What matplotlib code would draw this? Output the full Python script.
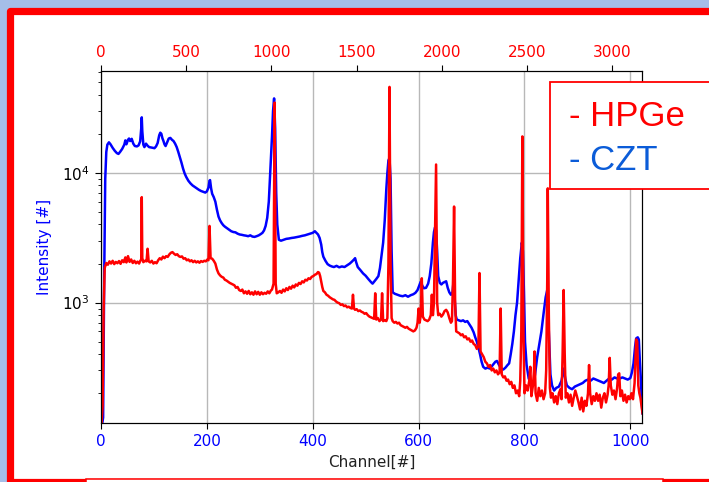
import matplotlib.pyplot as plt
from matplotlib.patches import Rectangle

# HPGe spectrum (channel, counts)
hpge_ch = [0, 3, 5, 7, 10, 13, 16, 19, 22, 25, 28, 31, 34, 37, 40, 43, 46, 48, 51, 54,
           57, 60, 63, 66, 69, 72, 74, 76, 77, 78, 80, 83, 86, 88, 90, 93, 96, 99, 102, 105,
           108, 111, 114, 117, 120, 123, 126, 129, 132, 135, 138, 141, 144, 147, 150, 153, 156, 159, 162, 165,
           168, 171, 174, 177, 180, 183, 186, 189, 192, 195, 198, 201, 203, 205, 207, 210, 213, 216, 219, 222,
           225, 228, 231, 234, 237, 240, 243, 246, 249, 252, 255, 258, 261, 264, 267, 270, 273, 276, 279, 282,
           285, 288, 291, 294, 297, 300, 303, 306, 309, 312, 315, 318, 321, 323, 326, 328, 330, 332, 335, 338,
           341, 344, 347, 350, 353, 356, 359, 362, 365, 368, 371, 374, 377, 380, 383, 386, 389, 392, 395, 398,
           401, 404, 407, 410, 412, 414, 416, 418, 420, 423, 426, 429, 432, 435, 438, 441, 444, 447, 450, 453,
           456, 459, 462, 465, 468, 471, 474, 476, 478, 480, 483, 486, 489, 492, 495, 498, 501, 504, 507, 510,
           513, 516, 518, 520, 523, 526, 529, 531, 533, 536, 539, 541, 543, 545, 547, 549, 551, 554, 557, 560,
           563, 566, 569, 572, 575, 578, 581, 584, 587, 590, 593, 596, 598, 600, 602, 604, 606, 608, 611, 614,
           617, 620, 623, 625, 627, 629, 631, 633, 635, 637, 640, 643, 646, 649, 652, 655, 658, 661, 663, 665,
           667, 669, 671, 674, 677, 680, 683, 686, 689, 692, 695, 698, 701, 704, 707, 710, 713, 715, 717, 720,
           723, 726, 729, 732, 735, 738, 741, 744, 747, 750, 753, 755, 757, 760, 763, 766, 769, 772, 775, 778,
           781, 784, 787, 790, 792, 794, 796, 798, 800, 803, 806, 809, 811, 813, 816, 818, 819, 821, 824, 827,
           830, 833, 836, 839, 841, 843, 844, 846, 848, 850, 853, 856, 859, 862, 865, 868, 870, 872, 874, 876,
           878, 881, 884, 887, 890, 893, 896, 899, 902, 905, 908, 911, 914, 917, 920, 922, 924, 927, 930, 933,
           936, 939, 942, 945, 948, 951, 954, 957, 959, 961, 963, 966, 969, 972, 975, 977, 979, 981, 984, 987,
           990, 993, 996, 999, 1002, 1005, 1008, 1011, 1013, 1015, 1017, 1019, 1021, 1023]
hpge_counts = [100, 160, 900, 1850, 2020, 1960, 2080, 2000, 2100, 1980, 2060, 2010, 2090, 1990, 2120, 2050, 2230, 2040, 2280, 2060,
               2150, 2020, 2100, 2010, 2070, 2000, 2090, 2150, 6500, 2200, 2050, 2100, 2080, 2600, 2080, 2040, 2100, 2000, 2050, 2010,
               2120, 2200, 2150, 2260, 2200, 2280, 2250, 2350, 2420, 2450, 2380, 2330, 2360, 2280, 2250, 2270, 2180, 2200, 2120, 2150,
               2080, 2120, 2050, 2100, 2040, 2080, 2030, 2090, 2060, 2100, 2080, 2150, 2120, 3900, 2200, 2180, 2100, 2000, 1800, 1680,
               1620, 1580, 1560, 1500, 1480, 1450, 1420, 1400, 1380, 1360, 1300, 1320, 1250, 1230, 1260, 1180, 1220, 1170, 1230, 1160,
               1200, 1150, 1220, 1160, 1210, 1150, 1200, 1160, 1190, 1170, 1220, 1180, 1240, 1260, 1400, 34800, 1400, 1180, 1200, 1230,
               1190, 1260, 1220, 1290, 1250, 1320, 1280, 1350, 1310, 1380, 1350, 1420, 1390, 1460, 1430, 1500, 1480, 1540, 1520, 1580,
               1600, 1640, 1660, 1720, 1700, 1600, 1450, 1320, 1230, 1200, 1150, 1130, 1100, 1080, 1060, 1050, 1020, 1000, 990, 960,
               970, 940, 950, 920, 930, 910, 900, 1150, 900, 880, 890, 860, 870, 850, 840, 820, 830, 800, 780, 770,
               760, 750, 1180, 740, 760, 720, 740, 1180, 720, 730, 720, 760, 2000, 46000, 2000, 760, 720, 700, 710, 690,
               700, 670, 660, 650, 640, 650, 630, 620, 610, 600, 610, 640, 700, 900, 700, 800, 1540, 780, 740, 730,
               720, 740, 800, 1150, 800, 1000, 3500, 11600, 1000, 800, 820, 780, 810, 860, 880, 840, 760, 700, 720, 1500,
               5500, 1000, 600, 590, 580, 560, 570, 540, 550, 520, 530, 500, 510, 480, 470, 440, 460, 1690, 420, 400,
               380, 350, 340, 320, 330, 300, 310, 290, 300, 280, 290, 900, 280, 265, 270, 250, 255, 235, 245, 220,
               230, 200, 210, 190, 250, 600, 19100, 600, 200, 230, 210, 250, 320, 190, 230, 300, 420, 200, 175, 220,
               190, 210, 180, 200, 300, 1500, 7600, 800, 220, 185, 200, 170, 190, 165, 200, 215, 180, 400, 1250, 400,
               185, 200, 170, 195, 160, 185, 210, 190, 170, 150, 185, 145, 175, 160, 200, 330, 200, 165, 190, 175,
               200, 175, 195, 155, 185, 200, 170, 195, 230, 375, 230, 195, 210, 180, 220, 280, 285, 190, 210, 175,
               195, 170, 190, 180, 200, 180, 240, 520, 500, 230, 200, 185, 160, 140]

# CZT spectrum (channel, counts)
czt_ch = [0, 4, 6, 8, 10, 12, 15, 18, 22, 26, 30, 33, 36, 40, 44, 46, 48, 51, 53, 55,
          58, 61, 64, 68, 71, 74, 76, 77, 78, 80, 82, 85, 88, 91, 95, 98, 101, 104, 107, 110,
          112, 114, 116, 118, 120, 122, 125, 128, 131, 134, 137, 140, 143, 146, 149, 152, 155, 158, 161, 165,
          169, 173, 177, 181, 185, 189, 193, 197, 200, 203, 205, 206, 208, 210, 213, 216, 219, 222, 225, 228,
          231, 234, 238, 242, 246, 250, 254, 258, 262, 266, 270, 274, 278, 282, 286, 290, 294, 298, 302, 305,
          308, 311, 314, 317, 320, 323, 325, 327, 329, 331, 333, 336, 340, 345, 350, 355, 360, 365, 370, 375,
          380, 385, 390, 395, 400, 404, 407, 410, 413, 416, 418, 420, 424, 428, 432, 436, 440, 445, 450, 455,
          460, 465, 470, 474, 478, 480, 482, 485, 490, 495, 500, 505, 510, 513, 516, 520, 524, 527, 530, 533,
          536, 539, 541, 543, 545, 547, 549, 551, 555, 560, 565, 570, 575, 580, 585, 590, 594, 598, 601, 604,
          607, 610, 614, 618, 621, 624, 627, 629, 631, 633, 635, 637, 640, 643, 646, 649, 652, 655, 658, 661,
          664, 666, 668, 670, 672, 676, 680, 684, 688, 692, 696, 700, 704, 707, 710, 713, 716, 719, 722, 726,
          730, 735, 740, 745, 748, 752, 756, 760, 764, 768, 771, 774, 777, 780, 783, 786, 789, 792, 795, 797,
          799, 801, 804, 808, 812, 817, 820, 824, 828, 832, 836, 840, 843, 846, 849, 852, 856, 860, 865, 870,
          874, 877, 880, 885, 890, 895, 900, 905, 910, 915, 920, 925, 930, 935, 940, 945, 950, 955, 960, 965,
          970, 975, 980, 985, 990, 995, 1000, 1003, 1006, 1009, 1011, 1014, 1016, 1018, 1020, 1022, 1023]
czt_counts = [100, 130, 1500, 9000, 14500, 16500, 17200, 16600, 15600, 14800, 14200, 14000, 14500, 15300, 16500, 17800, 16600, 18000, 18400, 17600,
              18300, 16800, 16100, 16000, 16300, 17500, 22000, 26800, 21000, 16500, 15800, 16800, 16200, 15800, 15700, 15600, 15500, 16000, 17000, 19500,
              20400, 20000, 18500, 17600, 16600, 16100, 17200, 18400, 18600, 18000, 17600, 16800, 15800, 14500, 13200, 12000, 10800, 9900, 9300, 8700,
              8300, 8000, 7800, 7600, 7400, 7250, 7150, 7050, 7200, 7700, 8700, 8800, 7600, 6900, 6500, 6000, 5200, 4600, 4300, 4100,
              3950, 3850, 3750, 3650, 3550, 3500, 3480, 3400, 3350, 3330, 3300, 3280, 3250, 3300, 3230, 3210, 3250, 3300, 3380, 3450,
              3600, 3900, 4500, 6000, 10500, 19000, 30000, 37500, 22000, 7000, 4000, 3050, 3000, 3050, 3100, 3120, 3150, 3170, 3200, 3230,
              3270, 3300, 3350, 3400, 3450, 3550, 3450, 3350, 3150, 2800, 2450, 2260, 2100, 1980, 1930, 1900, 1880, 1920, 1870, 1900,
              1880, 1940, 2000, 2070, 2150, 2200, 2050, 1880, 1780, 1680, 1610, 1520, 1440, 1400, 1450, 1520, 1600, 1850, 2300, 2900,
              4300, 7500, 10000, 12500, 13000, 9000, 2500, 1200, 1170, 1150, 1130, 1120, 1140, 1110, 1140, 1160, 1190, 1250, 1350, 1450,
              1350, 1290, 1300, 1400, 1600, 2000, 2900, 3500, 3800, 3600, 2500, 1600, 1420, 1380, 1420, 1440, 1460, 1300, 1200, 1150,
              1200, 1450, 1100, 800, 740, 730, 720, 730, 710, 720, 680, 640, 590, 540, 500, 450, 400, 350, 320, 310,
              315, 310, 330, 350, 355, 330, 310, 305, 315, 330, 340, 400, 480, 600, 800, 1000, 1500, 2200, 2900, 2500,
              1200, 500, 330, 260, 240, 235, 280, 380, 480, 600, 820, 1100, 1250, 600, 280, 230, 210, 220, 225, 250,
              310, 260, 230, 220, 215, 225, 230, 235, 240, 250, 255, 250, 260, 255, 250, 245, 240, 250, 260, 255,
              265, 260, 260, 265, 260, 255, 262, 290, 340, 460, 530, 540, 520, 350, 250, 160, 140]

channel_ticks = [0, 200, 400, 600, 800, 1000]
energy_ticks = [0, 500, 1000, 1500, 2000, 2500, 3000]
channel_max = 1022
energy_max = 3176

fig = plt.figure(figsize=(7.09, 4.82), dpi=100)
fig.patch.set_facecolor('#a5bee8')

W, H = 709.0, 482.0

def px_rect(x0, y0, x1, y1, **kw):
    # rectangle given in image pixels (y from top)
    return Rectangle((x0 / W, 1 - y1 / H), (x1 - x0) / W, (y1 - y0) / H,
                     transform=fig.transFigure, **kw)

# slide frame
fig.add_artist(px_rect(10, 10.5, 740, 481.5, facecolor='white', edgecolor='#ff0000',
                       lw=5.2, joinstyle='round', zorder=-2))
fig.add_artist(px_rect(86, 479, 663, 495, facecolor='white', edgecolor='#ff0000',
                       lw=1.1, zorder=-1))

ax = fig.add_axes([101 / W, 1 - 423 / H, (642 - 101) / W, (423 - 71) / H])
ax.set_facecolor('white')

ax.plot(czt_ch, czt_counts, color='#0000ff', lw=1.8, label='CZT')
ax.plot(hpge_ch, hpge_counts, color='#ff0000', lw=1.8, label='HPGe')

ax.set_yscale('log')
ax.set_ylim(118, 61000)
ax.set_xlim(0, channel_max)
ax.set_xticks(channel_ticks)
ax.grid(True, which='major', color='#b8b8b8', lw=1.0)
ax.tick_params(axis='x', colors='#0000ff', labelsize=11)
ax.tick_params(axis='y', labelsize=11, labelcolor='black')
ax.tick_params(axis='both', which='major', length=4.5, color='black')
ax.tick_params(axis='y', which='minor', length=2.5, color='black')
ax.set_xlabel('Channel[#]', fontsize=11, color='#222222', labelpad=4)
ax.set_ylabel('Intensity [#]', fontsize=11, color='#0000ff', labelpad=7)

ax2 = ax.twiny()
ax2.set_xlim(0, energy_max)
ax2.set_xticks(energy_ticks)
ax2.tick_params(axis='x', colors='black', labelcolor='#ff0000', labelsize=11, length=4.5)

# legend box drawn by hand, like on the slide
fig.add_artist(px_rect(550, 82, 740, 189, facecolor='white', edgecolor='#ff0000',
                       lw=1.3, zorder=5))
fig.text(569 / W, 1 - 126 / H, '- HPGe', color='#ff0000', fontsize=25,
         family='Liberation Sans', va='baseline', zorder=6)
fig.text(569 / W, 1 - 170 / H, '- CZT', color='#0b5cd8', fontsize=25,
         family='Liberation Sans', va='baseline', zorder=6)

plt.savefig('out.png', dpi=100, facecolor=fig.get_facecolor())
